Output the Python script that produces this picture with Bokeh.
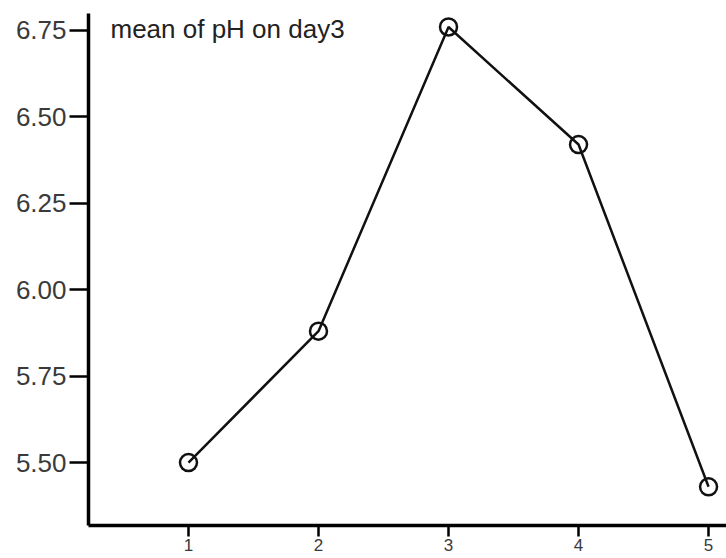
from bokeh.plotting import figure
from bokeh.models import FixedTicker, Label, Range1d, ColumnDataSource
from bokeh.embed import file_html
from bokeh.resources import INLINE

# data
groups = [1, 2, 3, 4, 5]
mean_ph = [5.50, 5.88, 6.76, 6.42, 5.43]
y_ticks = [5.50, 5.75, 6.00, 6.25, 6.50, 6.75]
y_tick_labels = ["5.50", "5.75", "6.00", "6.25", "6.50", "6.75"]
x_ticks = [1, 2, 3, 4, 5]
title_text = "mean of pH on day3"

src = ColumnDataSource(dict(x=groups, y=mean_ph))

p = figure(width=726, height=558, output_backend="svg", toolbar_location=None,
           x_range=Range1d(0.231, 5.138), y_range=Range1d(5.318, 6.799),
           min_border_left=88, min_border_right=0, min_border_top=13,
           min_border_bottom=33)
p.outline_line_color = None
p.xgrid.visible = False
p.ygrid.visible = False
p.background_fill_color = "white"

p.line("x", "y", source=src, line_color="#111111", line_width=2.5)
p.scatter("x", "y", source=src, size=17, marker="circle", fill_color=None,
          line_color="#111111", line_width=2.5)

font = "Liberation Sans"
for ax in (p.yaxis[0], p.xaxis[0]):
    ax.axis_line_width = 3.5
    ax.axis_line_color = "black"
    ax.major_tick_line_color = "black"
    ax.major_tick_line_width = 2.5
    ax.minor_tick_line_color = None
    ax.major_tick_in = 0
    ax.major_label_text_font = font
    ax.major_label_text_color = "#3a3a3a"

p.yaxis.ticker = FixedTicker(ticks=y_ticks)
p.yaxis.major_label_overrides = {t: l for t, l in zip(y_ticks, y_tick_labels)}
p.yaxis.major_tick_out = 19
p.yaxis.major_label_standoff = 3
p.yaxis.major_label_text_font_size = "26px"

p.xaxis.ticker = FixedTicker(ticks=x_ticks)
p.xaxis.major_tick_out = 11
p.xaxis.major_label_standoff = 2
p.xaxis.major_label_text_font_size = "17px"

p.add_layout(Label(x=0.400, y=6.753, text=title_text, text_font=font,
                   text_font_size="26px", text_color="#222222",
                   text_baseline="alphabetic"))

open("out.html", "w").write(file_html(p, INLINE))
